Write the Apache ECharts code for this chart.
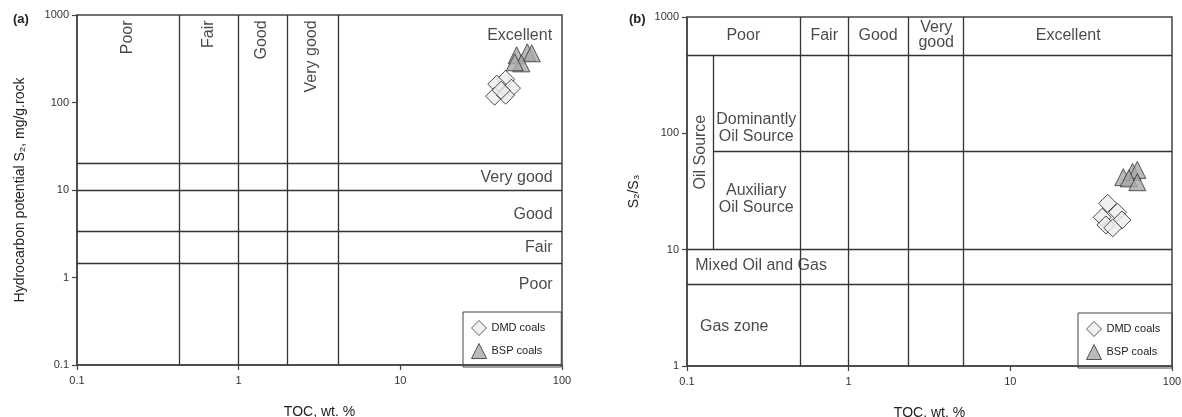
<!DOCTYPE html>
<html>
<head>
<meta charset="utf-8">
<script src="https://cdn.jsdelivr.net/npm/echarts@6/dist/echarts.min.js"></script>
<style>
html, body { margin: 0; padding: 0; background: #fff; }
#chart { width: 1182px; height: 417px; }
</style>
</head>
<body>
<div id="chart"></div>
<script>
// sample data
var dmdTocA = [44.8, 39.5, 48.7, 38.3, 44.8, 42];
var dmdS2 = [184, 162, 146, 118, 121, 138];
var bspTocA = [52.4, 61, 65, 56, 51];
var bspS2 = [346, 374, 365, 280, 288];

var dmdTocB = [40, 46, 37, 49, 39, 43];
var dmdS2S3 = [25, 21, 19, 18, 16.3, 15.4];
var bspTocB = [50, 57, 61, 54, 61];
var bspS2S3 = [42, 46.6, 48.5, 41, 38];

// class boundaries
var tocCutsA = [0.43, 1, 2, 4.15];
var s2Cuts = [20, 10, 3.35, 1.46];
var tocCutsB = [0.5, 1, 2.35, 5.1];
var ratioCuts = [470, 10, 5];
var oilSplitToc = 0.146;
var oilSplitRatio = 69.5;

// class names
var tocClassesA = ['Poor', 'Fair', 'Good', 'Very good'];
var s2Classes = ['Very good', 'Good', 'Fair', 'Poor'];
var tocClassesB = ['Poor', 'Fair', 'Good', 'Very\ngood', 'Excellent'];

var font = 'Liberation Sans, Arial, sans-serif';

function zip(xs, ys) {
    return xs.map(function (x, i) { return [x, ys[i]]; });
}

function hLine(y, x1, x2) {
    return [{ coord: [x1, y] }, { coord: [x2, y] }];
}
function vLine(x, y1, y2) {
    return [{ coord: [x, y1] }, { coord: [x, y2] }];
}

function txt(x, y, text, extra) {
    var label = { show: true, formatter: text, position: 'inside', color: '#1a1a1a', fontSize: 16, fontFamily: font, lineHeight: 15 };
    for (var k in extra) label[k] = extra[k];
    return { value: [x, y], label: label };
}

var zoneLinesA = [];
tocCutsA.forEach(function (x) { zoneLinesA.push(vLine(x, 0.1, 1000)); });
s2Cuts.forEach(function (y) { zoneLinesA.push(hLine(y, 0.1, 100)); });

var zoneLinesB = [];
tocCutsB.forEach(function (x) { zoneLinesB.push(vLine(x, 1, 1000)); });
ratioCuts.forEach(function (y) { zoneLinesB.push(hLine(y, 0.1, 100)); });
zoneLinesB.push(vLine(oilSplitToc, 10, ratioCuts[0]));
zoneLinesB.push(hLine(oilSplitRatio, oilSplitToc, 100));

var topXA = [0.206, 0.652, 1.39, 2.83];
var sideYA = [13.7, 5.3, 2.18, 0.83];
var labelsA = [];
tocClassesA.forEach(function (t, i) {
    labelsA.push(txt(topXA[i], 867, t, { rotate: 90, align: 'right', verticalAlign: 'middle' }));
});
labelsA.push(txt(54.7, 585, 'Excellent', {}));
s2Classes.forEach(function (t, i) {
    labelsA.push(txt(87.5, sideYA[i], t, { align: 'right' }));
});

var topXB = [0.223, 0.706, 1.52, 3.48, 22.8];
var labelsB = [];
tocClassesB.forEach(function (t, i) {
    labelsB.push(txt(topXB[i], 697, t, {}));
});
labelsB.push(txt(0.268, 111, 'Dominantly\nOil Source', { lineHeight: 17 }));
labelsB.push(txt(0.268, 27.3, 'Auxiliary\nOil Source', { lineHeight: 17 }));
labelsB.push(txt(0.121, 69, 'Oil Source', { rotate: 90 }));
labelsB.push(txt(0.1125, 7.28, 'Mixed Oil and Gas', { align: 'left' }));
labelsB.push(txt(0.196, 2.18, 'Gas zone', {}));

function plain(v) { return String(v); }

function xAxisOf(g) {
    return {
        type: 'log', logBase: 10, min: 0.1, max: 100, gridIndex: g,
        name: 'TOC, wt. %', nameLocation: 'middle', nameGap: 40,
        nameTextStyle: { fontSize: 14, color: '#222', fontFamily: font },
        axisLine: { lineStyle: { color: '#444', width: 1.5 } },
        axisTick: { show: true, length: 5, lineStyle: { color: '#444', width: 1.2 } },
        axisLabel: { color: '#333', fontSize: 11, margin: 10, fontFamily: font, formatter: plain },
        splitLine: { show: false }, minorTick: { show: false }
    };
}
function yAxisOf(g, min, name, gap) {
    return {
        type: 'log', logBase: 10, min: min, max: 1000, gridIndex: g,
        name: name, nameLocation: 'middle', nameGap: gap,
        nameTextStyle: { fontSize: 14, color: '#222', fontFamily: font },
        axisLine: { lineStyle: { color: '#444', width: 1.5 } },
        axisTick: { show: true, length: 5, lineStyle: { color: '#444', width: 1.2 } },
        axisLabel: { color: '#333', fontSize: 11, margin: 8, fontFamily: font, formatter: plain },
        splitLine: { show: false }, minorTick: { show: false }
    };
}

var diamondStyle = { color: '#ececec', borderColor: '#222', borderWidth: 1 };
var triStyle = { color: '#a9a9a9', borderColor: '#333', borderWidth: 1 };
var lineStyle = { color: '#333', width: 1.3, type: 'solid' };

var myChart = echarts.init(document.getElementById('chart'));
var option = {
    animation: false,
    title: [
        { text: '(a)', left: 8, top: 8, textStyle: { fontSize: 13, fontWeight: 'bold', color: '#222', fontFamily: font } },
        { text: '(b)', left: 624, top: 8, textStyle: { fontSize: 13, fontWeight: 'bold', color: '#222', fontFamily: font } }
    ],
    grid: [
        { left: 77, top: 15, width: 485, height: 350, show: true, borderColor: '#444', borderWidth: 1.5, outerBoundsMode: 'none', containLabel: false },
        { left: 687, top: 17, width: 485, height: 349, show: true, borderColor: '#444', borderWidth: 1.5, outerBoundsMode: 'none', containLabel: false }
    ],
    legend: [
        {
            orient: 'vertical', left: 463, top: 312, data: ['DMD coals', 'BSP coals'],
            itemWidth: 15, itemHeight: 15, itemGap: 7,
            padding: [8, 16, 8, 8], borderColor: '#444', borderWidth: 1,
            itemStyle: { borderWidth: 1, borderColor: '#333' },
            textStyle: { fontSize: 11, color: '#222', fontFamily: font }
        },
        {
            orient: 'vertical', left: 1078, top: 313, data: ['DMD coals', 'BSP coals'],
            itemWidth: 15, itemHeight: 15, itemGap: 7,
            padding: [8, 12, 8, 8], borderColor: '#444', borderWidth: 1,
            itemStyle: { borderWidth: 1, borderColor: '#333' },
            textStyle: { fontSize: 11, color: '#222', fontFamily: font }
        }
    ],
    xAxis: [xAxisOf(0), xAxisOf(1)],
    yAxis: [
        yAxisOf(0, 0.1, 'Hydrocarbon potential S\u2082, mg/g.rock', 50),
        yAxisOf(1, 1, 'S\u2082/S\u2083', 46)
    ],
    series: [
        {
            type: 'scatter', xAxisIndex: 0, yAxisIndex: 0, data: labelsA, symbolSize: 0, silent: true,
            markLine: { symbol: 'none', silent: true, label: { show: false }, lineStyle: lineStyle, data: zoneLinesA }
        },
        {
            type: 'scatter', xAxisIndex: 1, yAxisIndex: 1, data: labelsB, symbolSize: 0, silent: true,
            markLine: { symbol: 'none', silent: true, label: { show: false }, lineStyle: lineStyle, data: zoneLinesB }
        },
        { name: 'DMD coals', type: 'scatter', xAxisIndex: 0, yAxisIndex: 0, symbol: 'diamond', symbolSize: 18, itemStyle: diamondStyle, data: zip(dmdTocA, dmdS2) },
        { name: 'BSP coals', type: 'scatter', xAxisIndex: 0, yAxisIndex: 0, symbol: 'triangle', symbolSize: 17, itemStyle: triStyle, data: zip(bspTocA, bspS2) },
        { name: 'DMD coals', type: 'scatter', xAxisIndex: 1, yAxisIndex: 1, symbol: 'diamond', symbolSize: 18, itemStyle: diamondStyle, data: zip(dmdTocB, dmdS2S3) },
        { name: 'BSP coals', type: 'scatter', xAxisIndex: 1, yAxisIndex: 1, symbol: 'triangle', symbolSize: 17, itemStyle: triStyle, data: zip(bspTocB, bspS2S3) }
    ]
};
myChart.setOption(option);
</script>
</body>
</html>
